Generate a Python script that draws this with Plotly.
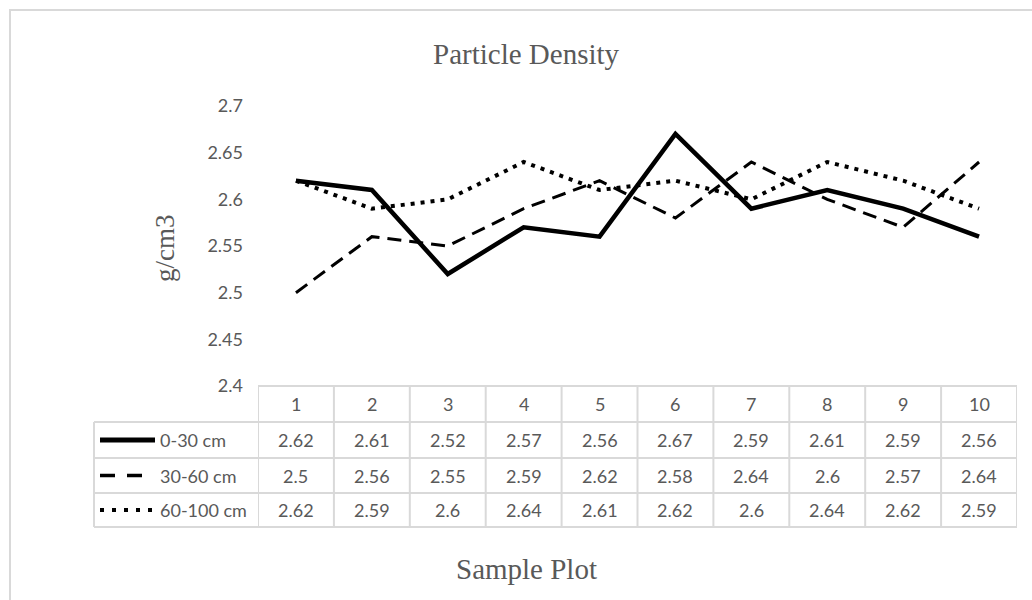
import plotly.graph_objects as go

# ---- data ----
sample_plots = [1, 2, 3, 4, 5, 6, 7, 8, 9, 10]
depth_0_30 = [2.62, 2.61, 2.52, 2.57, 2.56, 2.67, 2.59, 2.61, 2.59, 2.56]
depth_30_60 = [2.5, 2.56, 2.55, 2.59, 2.62, 2.58, 2.64, 2.6, 2.57, 2.64]
depth_60_100 = [2.62, 2.59, 2.6, 2.64, 2.61, 2.62, 2.6, 2.64, 2.62, 2.59]
series_names = ["0-30 cm", "30-60 cm", "60-100 cm"]
y_tick_vals = [2.4, 2.45, 2.5, 2.55, 2.6, 2.65, 2.7]
y_tick_text = ["2.4", "2.45", "2.5", "2.55", "2.6", "2.65", "2.7"]
title_text = "Particle Density"
y_title = "g/cm3"
x_title = "Sample Plot"

W, H = 1032, 600
def px(x):
    return x / W
def py(y):
    return 1 - y / H

GRAY_TXT = "#595959"
BORDER = "#d9d9d9"
SANS = "Lato, 'Open Sans', sans-serif"
SERIF = "'Liberation Serif', 'Times New Roman', serif"

styles = [
    dict(color="black", width=4.5, dash="solid"),
    dict(color="black", width=3, dash="14px,8px"),
    dict(color="black", width=4, dash="4px,6px"),
]
key_styles = [
    dict(color="black", width=5, dash="solid"),
    dict(color="black", width=3.5, dash="15px,12px"),
    dict(color="black", width=4, dash="4px,8px"),
]
key_ends = [155, 142, 152]
all_series = [depth_0_30, depth_30_60, depth_60_100]

# plot area geometry
PL, PR = 258, 1017
PT, PB = 106, 386
rows_y = [386, 422, 458, 493, 527]
LEG_L = 94

fig = go.Figure()
for name, vals, st in zip(series_names, all_series, styles):
    fig.add_trace(go.Scatter(x=sample_plots, y=vals, mode="lines", name=name,
                             line=st, showlegend=False, cliponaxis=False))

shapes = []
annotations = []
# outer chart border
shapes.append(dict(type="rect", xref="paper", yref="paper", x0=px(10), x1=px(1040),
                   y0=py(620), y1=py(10), line=dict(color=BORDER, width=2), layer="below"))

# table lines
shapes.append(dict(type="line", xref="paper", yref="paper", x0=px(PL), x1=px(PR),
                   y0=py(rows_y[0]), y1=py(rows_y[0]), line=dict(color=BORDER, width=2)))
for ry in rows_y[1:]:
    shapes.append(dict(type="line", xref="paper", yref="paper", x0=px(LEG_L), x1=px(PR),
                       y0=py(ry), y1=py(ry), line=dict(color=BORDER, width=2)))
shapes.append(dict(type="line", xref="paper", yref="paper", x0=px(LEG_L), x1=px(LEG_L),
                   y0=py(rows_y[1]), y1=py(rows_y[-1]), line=dict(color=BORDER, width=2)))
for i in range(len(sample_plots) + 1):
    xv = 0.5 + i
    shapes.append(dict(type="line", xref="x", yref="paper", x0=xv, x1=xv,
                       y0=py(rows_y[0]), y1=py(rows_y[-1]), line=dict(color=BORDER, width=2)))

cell_font = dict(family=SANS, size=18, color=GRAY_TXT)
# header labels
hc = (rows_y[0] + rows_y[1]) / 2
for s in sample_plots:
    annotations.append(dict(x=s, xref="x", y=py(hc), yref="paper", text=str(s),
                            xanchor="center", yanchor="middle",
                            showarrow=False, font=cell_font))
# value rows
for r, (name, vals, kst, kend) in enumerate(zip(series_names, all_series, key_styles, key_ends)):
    cy = (rows_y[r + 1] + rows_y[r + 2]) / 2
    for s, v in zip(sample_plots, vals):
        annotations.append(dict(x=s, xref="x", y=py(cy), yref="paper", text=f"{v:g}",
                                xanchor="center", yanchor="middle",
                                showarrow=False, font=cell_font))
    shapes.append(dict(type="line", xref="paper", yref="paper", x0=px(100), x1=px(kend),
                       y0=py(cy), y1=py(cy), line=kst))
    annotations.append(dict(x=px(158), xref="paper", y=py(cy), yref="paper", text=name,
                            xanchor="left", yanchor="middle", showarrow=False,
                            font=cell_font))

# titles
title_font = dict(family=SERIF, size=29, color=GRAY_TXT)
annotations.append(dict(x=px(526), y=py(54), xref="paper", yref="paper", text=title_text,
                        xanchor="center", yanchor="middle",
                        showarrow=False, font=title_font))
annotations.append(dict(x=px(165), y=py(248), xref="paper", yref="paper", text=y_title,
                        xanchor="center", yanchor="middle",
                        textangle=-90, showarrow=False,
                        font=dict(family=SERIF, size=27, color=GRAY_TXT)))
annotations.append(dict(x=px(526), y=py(569), xref="paper", yref="paper", text=x_title,
                        xanchor="center", yanchor="middle",
                        showarrow=False, font=title_font))

fig.update_layout(
    width=W, height=H,
    margin=dict(l=0, r=0, t=0, b=0, pad=0, autoexpand=False),
    paper_bgcolor="white", plot_bgcolor="white",
    showlegend=False,
    xaxis=dict(domain=[px(PL), px(PR)], range=[0.5, 10.5], visible=False,
               fixedrange=True, automargin=False),
    yaxis=dict(domain=[py(PB), py(PT)], range=[2.4, 2.7], tickvals=y_tick_vals,
               ticktext=y_tick_text, showgrid=False, zeroline=False, showline=False,
               ticks="", ticklabelstandoff=14, automargin=False, fixedrange=True,
               tickfont=cell_font),
    shapes=shapes, annotations=annotations,
)

fig.write_html("out.html", config={"displayModeBar": False})
